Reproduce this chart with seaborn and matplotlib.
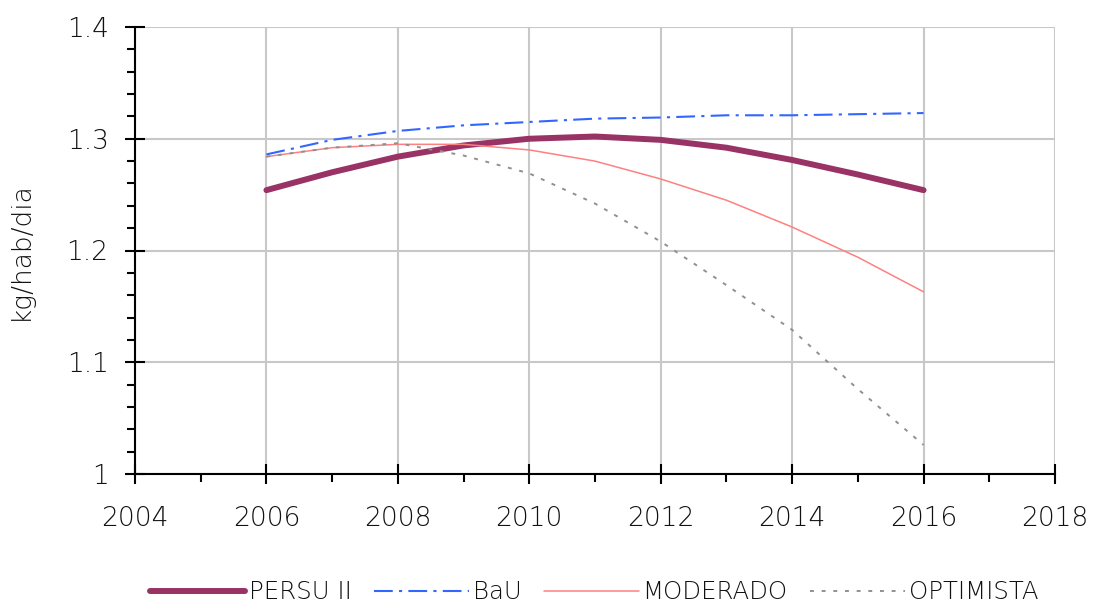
import matplotlib
matplotlib.use("Agg")
import matplotlib.pyplot as plt
import seaborn as sns
import pandas as pd
from matplotlib.ticker import MultipleLocator

years = [2006, 2007, 2008, 2009, 2010, 2011, 2012, 2013, 2014, 2015, 2016]
persu = [1.254, 1.270, 1.284, 1.294, 1.300, 1.302, 1.299, 1.292, 1.281, 1.268, 1.254]
bau = [1.286, 1.299, 1.307, 1.312, 1.315, 1.318, 1.319, 1.321, 1.321, 1.322, 1.323]
moderado = [1.284, 1.292, 1.295, 1.295, 1.290, 1.280, 1.264, 1.245, 1.221, 1.194, 1.163]
optimista = [1.284, 1.292, 1.296, 1.285, 1.269, 1.242, 1.208, 1.169, 1.129, 1.076, 1.026]
series_names = ["PERSU II", "BaU", "MODERADO", "OPTIMISTA"]

sns.set_theme(style="white")
plt.rcParams['font.family'] = ['DejaVu Sans']
plt.rcParams['font.weight'] = 'light'
plt.rcParams['axes.labelweight'] = 'light'

df = pd.DataFrame({
    "year": years * 4,
    "value": persu + bau + moderado + optimista,
    "serie": sum([[n] * len(years) for n in series_names], []),
})

colors = {"PERSU II": "#993366", "BaU": "#3366FF", "MODERADO": "#FF8080", "OPTIMISTA": "#909090"}
widths = {"PERSU II": 4.3, "BaU": 1.5, "MODERADO": 1.1, "OPTIMISTA": 1.4}
styles = {"PERSU II": "-", "BaU": (0, (9, 3, 1.5, 3)), "MODERADO": "-", "OPTIMISTA": (0, (2, 4))}

fig = plt.figure(figsize=(10.94, 6.03), dpi=100)
ax = fig.add_axes([135 / 1094, 1 - 474 / 603, (1055 - 135) / 1094, (474 - 27) / 603])

for n in series_names:
    sub = df[df["serie"] == n]
    sns.lineplot(data=sub, x="year", y="value", ax=ax, color=colors[n],
                 linewidth=widths[n], linestyle=styles[n], label=n, legend=False)

ax.set_xlim(2004, 2018)
ax.set_ylim(1.0, 1.4)
ax.xaxis.set_major_locator(MultipleLocator(2))
ax.xaxis.set_minor_locator(MultipleLocator(1))
ax.yaxis.set_minor_locator(MultipleLocator(0.02))
ax.set_yticks([1.0, 1.1, 1.2, 1.3, 1.4])
ax.set_yticklabels(["1", "1.1", "1.2", "1.3", "1.4"])
ax.grid(True, which="major", color="#C8C8C8", linewidth=1.5)
ax.set_axisbelow(True)
for s in ["top", "right"]:
    ax.spines[s].set_visible(False)
for s in ["left", "bottom"]:
    ax.spines[s].set_color("black")
    ax.spines[s].set_linewidth(1.5)
ax.tick_params(axis="both", which="major", direction="inout", length=14, width=1.5,
               colors="black", labelsize=19)
ax.tick_params(axis="both", which="minor", direction="out", length=6, width=1.5, colors="black")
ax.tick_params(axis="x", which="major", pad=16)
ax.tick_params(axis="y", which="major", pad=12)
ax.tick_params(left=True, bottom=True, which="both")
for lbl in ax.get_xticklabels() + ax.get_yticklabels():
    lbl.set_color("#111111")
    lbl.set_fontweight("light")
ax.set_xlabel("")
ax.set_ylabel("kg/hab/dia", fontsize=19, labelpad=24, color="#111111", fontweight="light")

handles, labels = ax.get_legend_handles_labels()
leg = fig.legend(handles, labels, loc="center", bbox_to_anchor=(0.543, 0.018), ncol=4,
                 frameon=False, fontsize=17.6, handlelength=3.9, columnspacing=0.9,
                 handletextpad=0.15)
for t in leg.get_texts():
    t.set_color("#111111")
    t.set_fontweight("light")

fig.savefig("out.png", dpi=100)
